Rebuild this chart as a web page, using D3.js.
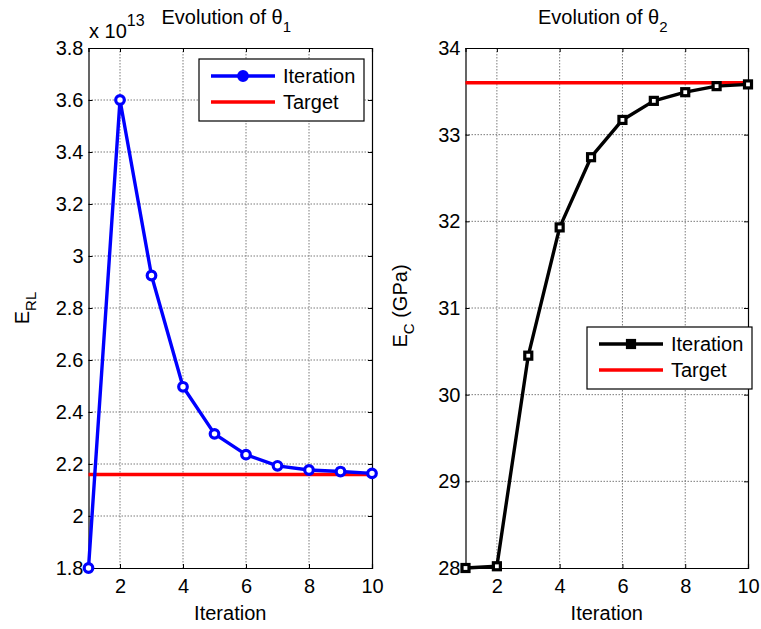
<!DOCTYPE html>
<html>
<head>
<meta charset="utf-8">
<script src="https://cdn.jsdelivr.net/npm/d3@7"></script>
<style>
  body { margin: 0; background: #fff; }
  svg { display: block; font-family: "Liberation Sans", Arial, sans-serif; }
</style>
</head>
<body>
<svg width="761" height="629"></svg>
<script>
// --- dados ---
const iterations = [1, 2, 3, 4, 5, 6, 7, 8, 9, 10];
const theta1Values = [1.8, 3.6, 2.925, 2.497, 2.316, 2.236, 2.193, 2.177, 2.171, 2.164]; // x 10^13
const theta1Target = 2.16;
const theta2Values = [28.0, 28.02, 30.45, 31.93, 32.74, 33.17, 33.39, 33.49, 33.56, 33.58]; // GPa
const theta2Target = 33.6;
const xTicks = [2, 4, 6, 8, 10];
const theta1Ticks = [1.8, 2, 2.2, 2.4, 2.6, 2.8, 3, 3.2, 3.4, 3.6, 3.8];
const theta2Ticks = [28, 29, 30, 31, 32, 33, 34];
const legendLabels = ['Iteration', 'Target'];

const svg = d3.select('svg');
const FS = '20px';

function drawPanel(cfg) {
    const x = d3.scaleLinear().domain([1, 10]).range(cfg.xr);
    const y = d3.scaleLinear().domain(cfg.yd).range([568, 48]);
    const g = svg.append('g');
    const [x0, x1] = cfg.xr;

    // grade pontilhada
    g.append('g').selectAll('line').data(xTicks.filter(t => t < 10)).join('line')
        .attr('x1', d => x(d)).attr('x2', d => x(d)).attr('y1', 48).attr('y2', 568)
        .attr('stroke', '#7a7a7a').attr('stroke-width', 1).attr('stroke-dasharray', '1.5,1.5');
    g.append('g').selectAll('line').data(cfg.ticks.slice(1, -1)).join('line')
        .attr('x1', x0).attr('x2', x1).attr('y1', d => y(d)).attr('y2', d => y(d))
        .attr('stroke', '#7a7a7a').attr('stroke-width', 1).attr('stroke-dasharray', '1.5,1.5');

    // eixos (ticks para dentro, estilo MATLAB)
    const fmt = d => String(d);
    const bottom = g.append('g').attr('transform', `translate(0,568)`)
        .call(d3.axisBottom(x).tickValues(xTicks).tickSize(-4).tickPadding(11).tickFormat(fmt));
    const top = g.append('g').attr('transform', `translate(0,48)`)
        .call(d3.axisTop(x).tickValues(xTicks).tickSize(-4).tickFormat(''));
    const left = g.append('g').attr('transform', `translate(${x0},0)`)
        .call(d3.axisLeft(y).tickValues(cfg.ticks).tickSize(-4).tickPadding(5).tickFormat(fmt));
    const right = g.append('g').attr('transform', `translate(${x1},0)`)
        .call(d3.axisRight(y).tickValues(cfg.ticks).tickSize(-4).tickFormat(''));
    [bottom, top, left, right].forEach(a => {
        a.select('.domain').attr('stroke', '#000').attr('stroke-width', 1.2);
        a.selectAll('.tick line').attr('stroke', '#000');
        a.selectAll('text').attr('fill', '#000').style('font-size', FS)
            .style('font-family', '"Liberation Sans", Arial, sans-serif');
    });

    // alvo
    g.append('line')
        .attr('x1', x(1)).attr('x2', x(10))
        .attr('y1', y(cfg.target)).attr('y2', y(cfg.target))
        .attr('stroke', '#ff0000').attr('stroke-width', 3.5);

    // iteracoes
    const pts = iterations.map((it, i) => ({ it, v: cfg.values[i] }));
    g.append('path').datum(pts)
        .attr('fill', 'none').attr('stroke', cfg.color).attr('stroke-width', 3.4)
        .attr('stroke-linejoin', 'round')
        .attr('d', d3.line().x(d => x(d.it)).y(d => y(d.v)));
    cfg.marker(g.append('g').selectAll('g').data(pts).join('g')
        .attr('transform', d => `translate(${x(d.it)},${y(d.v)})`));

    // rotulos
    g.append('text').attr('x', (x0 + x1) / 2).attr('y', 620)
        .attr('text-anchor', 'middle').style('font-size', FS).text('Iteration');
    const tt = g.append('text').attr('x', (x0 + x1) / 2 - 4).attr('y', 24)
        .attr('text-anchor', 'middle').style('font-size', FS);
    tt.append('tspan').text('Evolution of \u03b8');
    tt.append('tspan').attr('dy', 8).style('font-size', '15px').text(cfg.sub);

    // legenda
    const lg = g.append('g').attr('transform', `translate(${cfg.leg[0]},${cfg.leg[1]})`);
    lg.append('rect').attr('width', cfg.leg[2]).attr('height', 62)
        .attr('fill', '#fff').attr('stroke', '#000').attr('stroke-width', 1.2);
    lg.append('line').attr('x1', 12).attr('x2', 76).attr('y1', 17).attr('y2', 17)
        .attr('stroke', cfg.color).attr('stroke-width', 3.4);
    cfg.marker(lg.append('g').attr('transform', 'translate(44,17)'), true);
    lg.append('line').attr('x1', 12).attr('x2', 76).attr('y1', 43).attr('y2', 43)
        .attr('stroke', '#ff0000').attr('stroke-width', 3.5);
    lg.selectAll('text.lab').data(legendLabels).join('text').attr('class', 'lab')
        .attr('x', 84).attr('y', (d, i) => 17 + i * 26).attr('dy', '0.36em')
        .style('font-size', FS).text(d => d);
    return g;
}

drawPanel({
    xr: [88.5, 372], yd: [1.8, 3.8], ticks: theta1Ticks, values: theta1Values,
    target: theta1Target, color: '#0000ff', sub: '1', leg: [199, 59, 165],
    marker: (sel, legend) => sel.append('circle').attr('r', 4.3)
        .attr('fill', legend ? '#0000ff' : '#fff').attr('stroke', '#0000ff').attr('stroke-width', 3.2)
});

drawPanel({
    xr: [465.5, 748], yd: [28, 34], ticks: theta2Ticks, values: theta2Values,
    target: theta2Target, color: '#000', sub: '2', leg: [587, 327, 165],
    marker: (sel, legend) => sel.append('rect').attr('x', -3.5).attr('y', -3.5)
        .attr('width', 7).attr('height', 7)
        .attr('fill', legend ? '#000' : '#fff').attr('stroke', '#000').attr('stroke-width', 3.2)
});

// multiplicador x 10^13
const mult = svg.append('text').attr('x', 89).attr('y', 38).style('font-size', FS);
mult.append('tspan').text('x 10');
mult.append('tspan').attr('dy', -12).style('font-size', '16px').text('13');

// rotulos y
const yl1 = svg.append('text').attr('transform', 'translate(29,308) rotate(-90)')
    .attr('text-anchor', 'middle').style('font-size', FS);
yl1.append('tspan').text('E');
yl1.append('tspan').attr('dy', 7).style('font-size', '15px').text('RL');

const yl2 = svg.append('text').attr('transform', 'translate(407,306) rotate(-90)')
    .attr('text-anchor', 'middle').style('font-size', FS);
yl2.append('tspan').text('E');
yl2.append('tspan').attr('dy', 7).style('font-size', '15px').text('C');
yl2.append('tspan').attr('dy', -7).text(' (GPa)');
</script>
</body>
</html>
